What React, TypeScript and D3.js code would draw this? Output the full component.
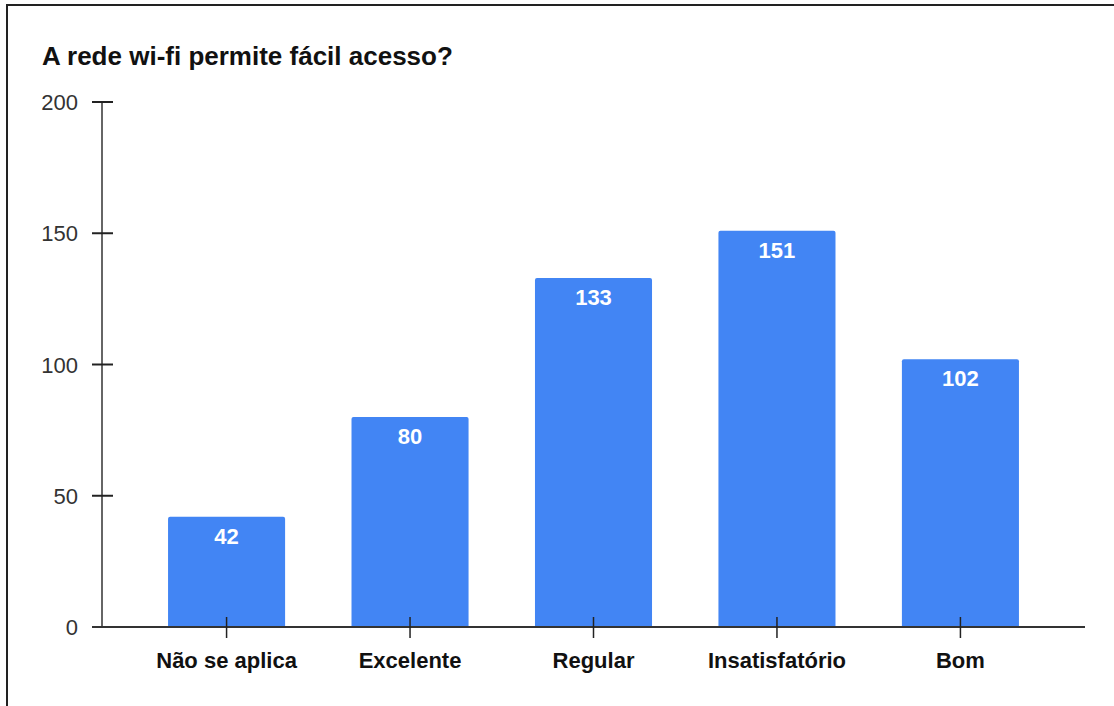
import React from "react";
import * as d3 from "d3";

const categories = ["Não se aplica", "Excelente", "Regular", "Insatisfatório", "Bom"];
const values = [42, 80, 133, 151, 102];
const yTicks = [0, 50, 100, 150, 200];
const title = "A rede wi-fi permite fácil acesso?";

const W = 1114;
const H = 706;
const FONT = "'Liberation Sans', Arial, sans-serif";

export default function App() {
  const x = d3
    .scaleBand<string>()
    .domain(categories)
    .range([102, 1085])
    .paddingInner(0.362)
    .paddingOuter(0.36);
  const y = d3.scaleLinear().domain([0, 200]).range([627, 102]);
  const r = 2;

  const barPath = (x0: number, y0: number, w: number, h: number) => {
    const p = d3.path();
    p.moveTo(x0, y0 + h);
    p.lineTo(x0, y0 + r);
    p.arcTo(x0, y0, x0 + r, y0, r);
    p.lineTo(x0 + w - r, y0);
    p.arcTo(x0 + w, y0, x0 + w, y0 + r, r);
    p.lineTo(x0 + w, y0 + h);
    p.closePath();
    return p.toString();
  };

  return (
    <svg
      width={W}
      height={H}
      style={{ position: "fixed", left: 0, top: 0, background: "#fff" }}
      fontFamily={FONT}
    >
      <rect x={0} y={0} width={W} height={H} fill="#fff" />
      <line x1={6} y1={5} x2={W} y2={5} stroke="#222" strokeWidth={2} />
      <line x1={7} y1={5} x2={7} y2={H} stroke="#222" strokeWidth={2} />
      <text x={42} y={65} fontSize={26} fontWeight="bold" fill="#111">
        {title}
      </text>
      {categories.map((c, i) => {
        const bx = x(c)!;
        const by = y(values[i]);
        return (
          <g key={c}>
            <path d={barPath(bx, by, x.bandwidth(), y(0) - by)} fill="#4285F4" />
            <text
              x={bx + x.bandwidth() / 2}
              y={by + 27}
              textAnchor="middle"
              fontSize={22}
              fontWeight="bold"
              fill="#fff"
            >
              {values[i]}
            </text>
          </g>
        );
      })}
      {/* y axis */}
      <line x1={102} y1={y(200)} x2={102} y2={y(0)} stroke="#333" strokeWidth={1.5} />
      {yTicks.map((t) => (
        <g key={t}>
          <line x1={92} x2={113} y1={y(t)} y2={y(t)} stroke="#222" strokeWidth={2} />
          <text
            x={78}
            y={y(t) + 8}
            textAnchor="end"
            fontSize={22}
            fill="#333"
          >
            {t}
          </text>
        </g>
      ))}
      {/* x axis */}
      <line x1={92} x2={1085} y1={y(0)} y2={y(0)} stroke="#333" strokeWidth={2} />
      {categories.map((c) => {
        const cx = x(c)! + x.bandwidth() / 2;
        return (
          <g key={c + "t"}>
            <line x1={cx} x2={cx} y1={617} y2={638} stroke="#222" strokeWidth={1.5} />
            <text
              x={cx}
              y={668}
              textAnchor="middle"
              fontSize={22}
              fontWeight="bold"
              fill="#111"
            >
              {c}
            </text>
          </g>
        );
      })}
    </svg>
  );
}
